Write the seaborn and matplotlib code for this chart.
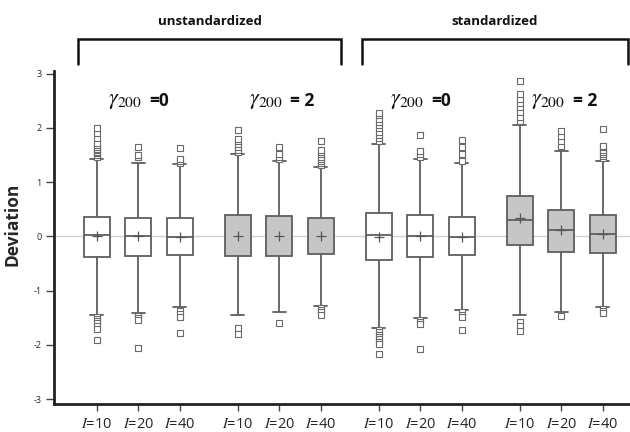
import pandas as pd
import matplotlib.pyplot as plt
import seaborn as sns

# box layout: four groups of three lengths
positions = [0, 1, 2, 3.4, 4.4, 5.4, 6.8, 7.8, 8.8, 10.2, 11.2, 12.2]
groups = [0, 0, 0, 1, 1, 1, 2, 2, 2, 3, 3, 3]
tick_labels = [r"$\mathit{I}$=10", r"$\mathit{I}$=20", r"$\mathit{I}$=40"] * 4
group_gamma = [r"$\gamma_{200}$"] * 4
group_value = ["=0", "= 2", "=0", "= 2"]
group_fill = ["white", "#c6c6c6", "white", "#c6c6c6"]
group_median = [True, False, True, True]
panel_titles = ["unstandardized", "standardized"]

# five-number summaries
whislo = [-1.44, -1.41, -1.31, -1.44, -1.39, -1.29, -1.69, -1.51, -1.36, -1.45, -1.39, -1.30]
q1 = [-0.376, -0.358, -0.345, -0.36, -0.36, -0.33, -0.43, -0.38, -0.35, -0.15, -0.29, -0.31]
med = [0.02, 0.01, -0.01, 0.0, 0.0, 0.0, 0.02, 0.01, -0.01, 0.31, 0.11, 0.05]
q3 = [0.365, 0.346, 0.33, 0.39, 0.37, 0.33, 0.44, 0.39, 0.35, 0.75, 0.49, 0.39]
whishi = [1.43, 1.35, 1.33, 1.52, 1.39, 1.28, 1.71, 1.43, 1.35, 2.06, 1.57, 1.39]
means = [0.0, 0.0, -0.01, 0.0, 0.0, 0.0, -0.01, 0.01, -0.01, 0.33, 0.11, 0.05]

fliers = [
    [1.47, 1.50, 1.53, 1.56, 1.59, 1.62, 1.65, 1.68, 1.73, 1.82, 1.90, 1.99,
     -1.48, -1.52, -1.56, -1.60, -1.65, -1.70, -1.91],
    [1.47, 1.50, 1.64, -1.44, -1.47, -1.51, -1.55, -2.05],
    [1.36, 1.39, 1.42, 1.63, -1.38, -1.43, -1.49, -1.79],
    [1.55, 1.60, 1.65, 1.70, 1.75, 1.80, 1.96, -1.69, -1.80],
    [1.43, 1.47, 1.52, 1.64, -1.60],
    [1.31, 1.35, 1.39, 1.43, 1.47, 1.51, 1.55, 1.59, 1.76, -1.32, -1.36, -1.40, -1.45],
    [1.75, 1.81, 1.87, 1.93, 1.99, 2.05, 2.11, 2.17, 2.23, 2.28,
     -1.73, -1.77, -1.81, -1.85, -1.89, -1.94, -1.99, -2.17],
    [1.47, 1.52, 1.58, 1.86, -1.55, -1.58, -1.62, -2.07],
    [1.39, 1.51, 1.65, 1.78, -1.40, -1.44, -1.48, -1.73],
    [2.13, 2.21, 2.30, 2.38, 2.46, 2.54, 2.62, 2.87, -1.57, -1.66, -1.75],
    [1.67, 1.76, 1.85, 1.94, -1.46],
    [1.44, 1.48, 1.52, 1.56, 1.60, 1.64, 1.67, 1.98, -1.34, -1.38, -1.42],
]

rows = []
for i, p in enumerate(positions):
    for v in (whislo[i], q1[i], med[i], q3[i], whishi[i]):
        rows.append({"pos": p, "group": groups[i], "value": v})
box_df = pd.DataFrame(rows)

flier_df = pd.DataFrame(
    [{"pos": positions[i], "value": v} for i in range(len(positions)) for v in fliers[i]]
)

sns.set_style("ticks")
plt.rcParams["font.family"] = ["Open Sans", "DejaVu Sans"]
plt.rcParams["mathtext.fontset"] = "stix"

fig = plt.figure(figsize=(6.3, 4.32), dpi=100)
ax = fig.add_axes([0.0857, 0.0648, 0.914, 0.771])

ax.axhline(0, color="#d2d2d2", lw=1, zorder=0)

edge = "#5e5e5e"
for g in range(4):
    sub = box_df[box_df["group"] == g]
    sns.boxplot(data=sub, x="pos", y="value", native_scale=True, whis=(0, 100),
                width=0.63, color=group_fill[g], saturation=1, linecolor=edge,
                linewidth=1.3, showfliers=False,
                medianprops={"linewidth": 1.3 if group_median[g] else 0},
                ax=ax)

sns.scatterplot(data=flier_df, x="pos", y="value", marker="s", s=22,
                facecolor="white", edgecolor="#6a6a6a", linewidth=0.8,
                zorder=3, ax=ax)
sns.scatterplot(x=positions, y=means, marker="+", s=45, color="#555555",
                linewidth=0.9, zorder=4, ax=ax)

ax.set_xlim(-1.03, 12.85)
ax.set_ylim(-3.09, 3.05)
ax.set_xticks(positions)
ax.set_xticklabels(tick_labels, fontsize=10.5)
ax.set_yticks([-3, -2, -1, 0, 1, 2, 3])
ax.set_yticklabels(["-3", "-2", "-1", "0", "1", "2", "3"], fontsize=6.5)
ax.tick_params(axis="y", length=6, width=1, color="#444444", pad=3)
ax.tick_params(axis="x", length=5, width=1, color="#444444", pad=4)
ax.set_xlabel("")
ax.set_ylabel("Deviation", fontsize=12.5, fontweight="bold")
ax.yaxis.set_label_coords(-0.056, 0.54)

sns.despine(ax=ax)
ax.spines["left"].set_linewidth(2)
ax.spines["bottom"].set_linewidth(2)
ax.spines["left"].set_color("#222222")
ax.spines["bottom"].set_color("#222222")

# group labels over each triple
for g in range(4):
    gx = [positions[i] for i in range(len(positions)) if groups[i] == g]
    cx = sum(gx) / len(gx)
    ax.text(cx + 0.1, 2.5, group_gamma[g], ha="right", va="center",
            fontsize=16, color="#111111")
    ax.text(cx + 0.27, 2.5, group_value[g], ha="left", va="center",
            fontsize=12.5, fontweight="bold", color="#111111")

# brackets for the two panels
brackets = [(-0.45, 5.9), (6.39, 12.8)]
for (x0, x1), title in zip(brackets, panel_titles):
    ax.plot([x0, x0, x1, x1], [3.17, 3.63, 3.63, 3.17], color="#111111",
            lw=1.8, clip_on=False, solid_joinstyle="miter")
    ax.text((x0 + x1) / 2, 3.97, title, ha="center", va="center",
            fontsize=9.5, fontweight="bold", color="#111111", clip_on=False)

fig.savefig("out.png", dpi=100)
